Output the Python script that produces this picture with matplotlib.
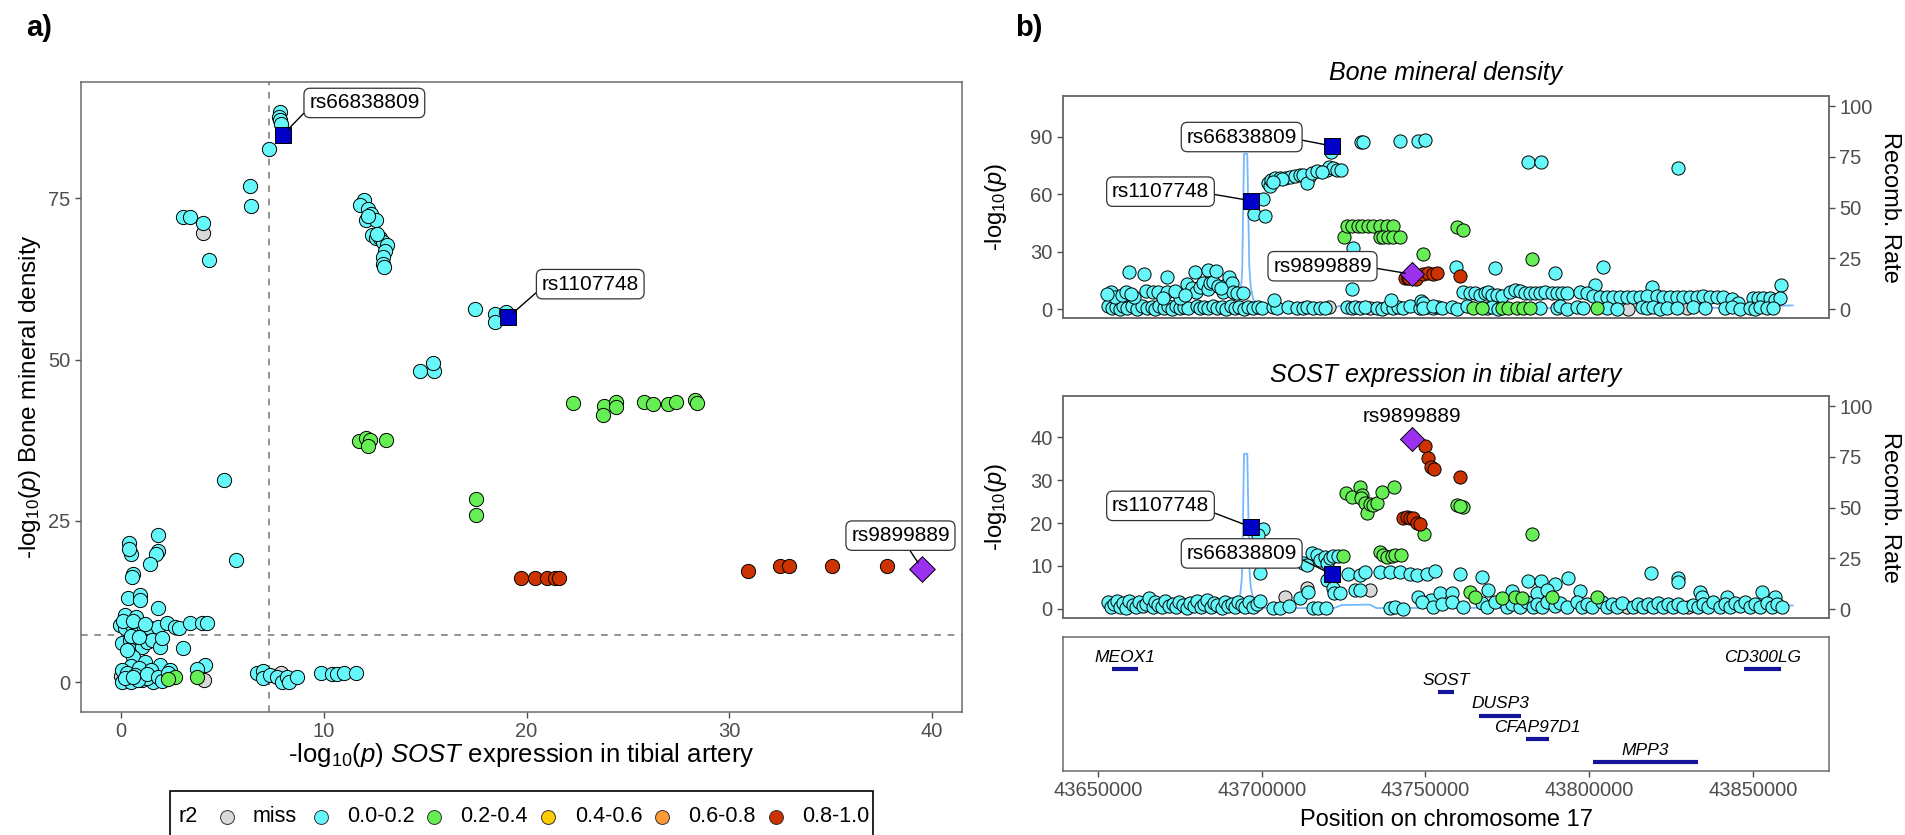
import matplotlib
matplotlib.use('Agg')
import matplotlib.pyplot as plt
from matplotlib.lines import Line2D
from matplotlib.patches import Rectangle

plt.rcParams['font.family'] = ['Liberation Sans', 'DejaVu Sans']
plt.rcParams['mathtext.fontset'] = 'custom'
plt.rcParams['mathtext.rm'] = 'Liberation Sans'
plt.rcParams['mathtext.it'] = 'Liberation Sans:italic'
plt.rcParams['mathtext.bf'] = 'Liberation Sans:bold'

# ---------------- colours ----------------
ld_labels = ['miss', '0.0-0.2', '0.2-0.4', '0.4-0.6', '0.6-0.8', '0.8-1.0']
ld_colors = ['#D9D9D9', '#66F7FA', '#66EE55', '#FFCC00', '#FF9933', '#CC3300']
lead_color = '#9B30F0'
sel_color = '#0000C8'
recomb_color = '#74B8FF'
gene_color = '#14149A'
GRAY_TXT = '#4D4D4D'
FRAME = '#6B6B6B'

# ---------------- panel a data: (SOST -log10p, BMD -log10p) ----------------
a_miss = [(4.03, 69.6), (4.1, 0.3), (0.0, 1.0), (7.9, 1.4)]
a_cyan = [(7.85, 88.4), (7.8, 87.6), (7.85, 87.1), (7.9, 86.6), (7.28, 82.7), (6.34, 76.9),
          (6.39, 73.8), (3.08, 72.1), (3.41, 72.1), (4.02, 71.2), (4.33, 65.5),
          (11.96, 74.7), (11.8, 73.9), (12.17, 73.4), (12.32, 72.6), (12.1, 71.7), (12.56, 71.7),
          (12.4, 69.3), (12.56, 68.9), (12.77, 68.9), (12.92, 68.2), (13.14, 67.7), (13.0, 66.9),
          (12.92, 65.9), (12.92, 64.9), (12.95, 64.4), (12.2, 72.2), (12.6, 69.5),
          (17.46, 57.8), (18.46, 57.0), (18.46, 55.8), (18.97, 57.4),
          (14.74, 48.3), (15.44, 48.3), (15.37, 49.4), (5.06, 31.4), (5.67, 18.9),
          (0.37, 21.6), (0.47, 19.9), (0.4, 20.6), (1.8, 22.8), (1.8, 20.3), (1.7, 19.8),
          (1.43, 18.3), (0.6, 16.8), (0.55, 16.3),
          (0.36, 13.0), (0.94, 13.5), (0.94, 12.7), (1.8, 11.5), (0.2, 10.4), (0.74, 10.1),
          (-0.05, 8.8), (0.2, 8.3), (0.53, 8.8), (0.8, 8.1), (1.07, 8.8), (1.43, 8.3), (1.8, 8.6),
          (2.26, 9.1), (2.67, 8.6), (2.88, 8.3), (3.41, 9.1), (3.98, 9.1), (4.23, 9.2),
          (0.1, 9.5), (0.6, 9.4), (1.2, 9.0),
          (0.03, 6.0), (0.44, 6.5), (0.61, 5.7), (0.86, 6.8), (1.02, 5.5), (1.3, 6.25),
          (1.51, 6.5), (1.93, 5.5), (2.01, 6.9), (0.61, 3.9), (3.05, 5.2), (0.5, 7.2),
          (0.9, 7.0), (0.3, 5.0),
          (1.19, 3.1), (1.93, 2.6), (2.42, 1.9), (4.12, 2.7), (3.74, 2.0), (0.5, 2.5),
          (0.9, 2.2), (1.5, 1.8),
          (0.03, 1.9), (0.28, 1.35), (0.69, 1.1), (1.02, 0.3), (1.6, 0.05), (1.27, 0.57),
          (0.03, 0.05), (0.5, 0.05), (0.85, 0.3), (1.3, 1.2), (1.8, 0.8), (2.0, 0.2),
          (2.3, 1.4), (0.2, 0.6), (0.6, 0.8),
          (6.7, 1.35), (7.02, 1.7), (6.98, 0.57), (7.36, 1.08), (7.69, 0.82), (7.93, 0.05),
          (8.18, 0.73), (8.26, 0.05), (8.7, 0.73),
          (9.88, 1.35), (10.4, 1.24), (10.65, 1.24), (10.98, 1.35), (11.6, 1.35)]
a_green = [(11.72, 37.4), (12.1, 37.8), (12.26, 37.5), (12.17, 36.6), (13.08, 37.5),
           (17.52, 28.4), (17.52, 25.9), (22.3, 43.2), (23.81, 42.8), (23.75, 41.4),
           (24.41, 43.4), (24.41, 42.7), (25.78, 43.4), (26.23, 43.1), (26.99, 43.1),
           (27.35, 43.4), (28.29, 43.7), (28.41, 43.3), (2.67, 0.82), (3.74, 0.82), (2.3, 0.5)]
a_red = [(19.73, 16.2), (20.4, 16.1), (21.03, 16.06), (21.39, 16.06), (21.6, 16.2),
         (30.9, 17.25), (32.5, 18.0), (32.94, 18.0), (35.06, 18.0), (37.8, 18.0)]
snp_names = ['rs66838809', 'rs1107748', 'rs9899889']
snp_pos = [43721460, 43696640, 43745900]
snp_sost = [7.99, 19.1, 39.5]
snp_bmd = [84.9, 56.6, 17.6]
snp_bmd_b = [85.1, 56.6, 18.2]
snp_sost_b = [8.0, 19.1, 39.5]
gw_threshold = 7.3

# ---------------- panel b top: (position, BMD -log10p) ----------------
t_miss = [(43720645, 0.9), (43733059, 0.5), (43714541, 69.1), (43811904, 0.3), (43829732, 0.4)]
t_cyan = [
    (43653185, 1.7), (43654202, 0.4), (43655525, 1.2), (43656746, 0.3), (43657763, 1.7),
    (43658985, 0.5), (43660307, 1.5), (43661833, 0.3), (43663360, 1.7), (43664886, 0.6),
    (43666413, 1.2), (43667430, 0.3), (43668752, 1.7), (43670177, 0.5), (43671499, 1.4),
    (43672518, 0.3), (43673840, 1.8), (43675061, 0.6), (43676282, 1.2), (43677604, 0.4),
    (43680150, 1.6), (43681166, 0.4), (43682488, 1.1), (43683710, 0.5), (43685033, 1.7),
    (43686255, 0.4), (43687780, 1.3), (43689102, 0.3), (43690527, 1.6), (43691849, 0.5),
    (43693172, 1.2), (43694597, 0.3), (43695919, 1.0), (43697445, 0.5), (43698971, 1.3),
    (43699990, 0.4),
    (43703551, 1.2), (43704772, 0.5), (43708129, 0.9), (43710675, 0.8), (43712708, 0.4),
    (43713727, 1.1), (43715760, 0.6), (43717796, 0.8), (43719322, 0.4), (43725937, 1.3),
    (43727463, 0.5), (43728480, 0.9), (43730006, 0.4), (43731532, 1.1), (43735094, 0.6),
    (43736621, 0.3), (43738147, 0.9), (43740180, 0.4), (43741706, 1.2), (43743233, 0.5),
    (43745269, 1.7), (43748321, 0.6), (43750357, 1.0), (43752390, 0.4), (43753916, 1.2),
    (43703900, 4.8), (43739600, 4.8), (43748500, 4.3),
    (43653999, 8.8), (43655220, 6.5), (43657265, 7.4), (43658578, 9.1), (43659592, 19.6),
    (43661111, 6.5), (43664081, 18.4), (43664683, 9.5), (43666911, 8.8), (43668437, 8.8),
    (43671001, 8.8), (43671001, 16.6), (43675061, 5.7), (43677106, 13.1), (43678632, 10.9),
    (43679853, 9.1), (43679640, 19.6), (43681166, 11.7), (43682173, 13.5), (43683520, 20.4),
    (43683520, 10.4), (43684222, 13.5), (43685229, 14.3), (43686052, 19.9), (43686755, 12.1),
    (43688097, 8.8), (43689318, 13.1), (43690110, 17.0), (43690830, 13.5), (43691334, 8.8),
    (43692371, 8.3), (43694386, 8.3), (43652800, 8.0), (43660200, 8.0), (43669800, 6.0),
    (43673500, 9.5), (43676500, 7.5), (43687500, 11.0),
    (43697751, 49.5), (43701007, 48.6), (43700295, 57.5), (43701822, 65.7), (43702535, 64.3),
    (43702840, 67.4), (43704061, 68.3), (43705587, 68.3), (43707114, 68.6), (43708640, 69.1),
    (43710166, 69.5), (43711692, 70.0), (43712709, 70.0), (43713727, 65.7), (43715253, 71.2),
    (43716779, 72.3), (43719831, 72.6), (43720645, 74.0), (43721866, 73.5), (43722883, 72.6),
    (43724104, 72.6), (43721052, 82.2), (43718300, 71.5), (43706300, 68.0), (43703300, 66.5),
    (43730311, 87.4), (43731023, 87.4), (43742216, 87.7), (43747609, 87.7), (43749847, 88.3),
    (43727970, 31.8), (43727463, 10.4), (43759311, 21.8), (43771211, 21.3), (43789536, 19.0),
    (43804089, 21.8), (43781385, 76.9), (43785170, 76.9), (43827163, 73.5), (43801742, 12.6),
    (43819232, 11.4), (43858425, 12.6), (43749331, 3.1),
    (43761539, 9.1), (43763583, 8.3), (43765110, 8.6), (43766636, 7.4), (43768162, 8.3),
    (43769170, 9.1), (43770207, 7.4), (43771733, 7.4), (43773260, 6.9), (43775793, 9.1),
    (43777319, 10.0), (43778846, 9.7), (43780372, 8.3), (43781898, 8.3), (43783425, 8.3),
    (43784951, 8.3), (43786477, 9.1), (43788522, 8.3), (43790048, 8.3), (43791575, 8.3),
    (43793101, 8.3), (43797161, 9.1), (43799206, 8.3), (43801220, 6.9), (43803269, 6.5),
    (43805314, 6.5), (43807328, 6.5), (43809373, 6.5), (43811418, 6.5), (43813433, 6.5),
    (43815478, 6.5), (43817523, 6.9), (43820575, 6.9), (43822590, 6.5), (43824635, 6.5),
    (43826680, 6.5), (43828695, 6.5), (43830740, 6.5), (43832785, 6.5), (43834799, 6.9),
    (43836844, 6.5), (43838889, 6.5), (43840904, 6.5), (43843468, 5.2), (43845482, 3.1),
    (43850061, 5.7), (43851588, 5.7), (43853114, 5.7), (43855159, 5.7), (43856685, 4.8),
    (43858211, 5.7),
    (43749331, 0.5), (43752383, 1.6), (43754947, 0.4), (43757998, 1.2), (43759524, 0.3),
    (43762577, 1.4), (43768682, 0.5), (43770207, 1.3), (43772221, 0.3), (43784951, 0.6),
    (43790048, 0.4), (43791056, 1.5), (43793101, 0.3), (43796154, 1.2), (43798168, 0.4),
    (43805314, 0.5), (43808365, 0.3), (43815997, 1.0), (43817523, 0.4), (43819537, 1.2),
    (43821582, 0.3), (43823627, 0.6), (43826680, 0.4), (43831747, 1.1), (43835317, 0.5),
    (43841422, 0.4), (43843468, 1.3), (43846002, 0.3), (43849054, 0.7), (43850581, 0.3),
    (43852107, 1.0), (43854152, 0.4), (43856166, 0.8)]
t_green = [(43725122, 37.5), (43725937, 43.6), (43727463, 43.6), (43729497, 43.6), (43730514, 43.6),
           (43732549, 43.6), (43734075, 43.6), (43736111, 43.6), (43738147, 43.6), (43740180, 43.6),
           (43736111, 37.5), (43737128, 37.5), (43738654, 37.5), (43740180, 37.5), (43742216, 37.5),
           (43749338, 28.8), (43759524, 43.0), (43761538, 41.3), (43782418, 26.0),
           (43764601, 0.5), (43767145, 0.4), (43773250, 0.6), (43775285, 0.4), (43777830, 0.5),
           (43779865, 0.4), (43781900, 0.5), (43802250, 0.6)]
t_red = [(43743742, 16.1), (43744759, 16.1), (43745000, 16.4), (43746284, 16.6), (43747000, 16.0),
         (43749338, 18.4), (43750865, 18.9), (43752390, 18.6), (43753407, 18.9), (43760531, 17.3)]

# ---------------- panel b middle: (position, SOST -log10p) ----------------
m_miss = [(43707114, 2.8), (43713727, 4.8), (43733059, 4.4), (43811407, 0.3), (43830229, 0.4)]
m_cyan = [
    (43653185, 1.5), (43653999, 0.3), (43654915, 1.0), (43655729, 1.9), (43656746, 0.5),
    (43657560, 1.3), (43658578, 0.2), (43659595, 1.7), (43660613, 0.8), (43661630, 0.3),
    (43662647, 1.5), (43663868, 0.6), (43664683, 1.2), (43665700, 2.4), (43666718, 0.4),
    (43667430, 1.6), (43668448, 0.9), (43669465, 0.3), (43670483, 1.8), (43671805, 0.6),
    (43672823, 1.1), (43673840, 0.4), (43674858, 1.6), (43675875, 0.8), (43677096, 0.2),
    (43678113, 1.4), (43679335, 0.7), (43680352, 1.9), (43681369, 0.3), (43682386, 1.1),
    (43683404, 2.0), (43684422, 0.5), (43685439, 1.3), (43686456, 0.8), (43687780, 0.2),
    (43688797, 1.6), (43689815, 0.6), (43690832, 1.2), (43691849, 0.3), (43692867, 1.5),
    (43693884, 0.9), (43694902, 0.4), (43696224, 1.6), (43697445, 0.4), (43698464, 1.2),
    (43699481, 1.8),
    (43700295, 18.5), (43698971, 17.2), (43699481, 8.4),
    (43703551, 0.1), (43705586, 0.1), (43708436, 0.6), (43711692, 2.4), (43714236, 4.0),
    (43715557, 0.1), (43717287, 0.1), (43719628, 0.1),
    (43712709, 10.6), (43713727, 10.2), (43715253, 12.9), (43716779, 12.5), (43717795, 11.4),
    (43719322, 12.1), (43720026, 10.7), (43720848, 11.8), (43721866, 12.3), (43723383, 12.3),
    (43719831, 6.7), (43721662, 4.8), (43722069, 3.6), (43723900, 3.6),
    (43726438, 8.1), (43728478, 4.4), (43730006, 7.8), (43731532, 8.5), (43730006, 4.4),
    (43736111, 8.5), (43739164, 8.5), (43742216, 8.5), (43745269, 8.1), (43747311, 7.8),
    (43750366, 8.1), (43752900, 8.8),
    (43739164, 0.1), (43740691, 0.5), (43743231, 0.0), (43747800, 2.8), (43751600, 2.0),
    (43760531, 8.1), (43767145, 7.3), (43781385, 6.5), (43785170, 6.5), (43789536, 5.8),
    (43793606, 7.1), (43797168, 4.2), (43818834, 8.3), (43826962, 7.1), (43826962, 6.3),
    (43852804, 3.8), (43856670, 2.8), (43833780, 4.0), (43834300, 2.8), (43841912, 2.8),
    (43754420, 3.6), (43757981, 3.6), (43769180, 4.4), (43776303, 4.2), (43783934, 3.6),
    (43786987, 4.4),
    (43748831, 1.6), (43752390, 0.4), (43754935, 1.0), (43757988, 1.6), (43761547, 0.4),
    (43767145, 1.4), (43768672, 0.4), (43771215, 1.6), (43774777, 0.5), (43776303, 1.2),
    (43778846, 0.4), (43780882, 1.6), (43782915, 0.5), (43783934, 1.1), (43785461, 0.3),
    (43786987, 1.5), (43789530, 0.6), (43791056, 1.3), (43793092, 0.3), (43796145, 1.5),
    (43797671, 0.4), (43799197, 1.1), (43800723, 0.4), (43803776, 1.6), (43805302, 0.5),
    (43806828, 1.2), (43808354, 0.3), (43809881, 1.4), (43813440, 0.5), (43814966, 1.2),
    (43816493, 0.3), (43818019, 1.0), (43819545, 0.4), (43821072, 1.3), (43822598, 0.3),
    (43824124, 1.1), (43825650, 0.4), (43827177, 1.2), (43828703, 0.3), (43831756, 0.9),
    (43833282, 0.3), (43834808, 1.2), (43836334, 0.4), (43837861, 1.5), (43839896, 0.5),
    (43841422, 1.1), (43842949, 0.3), (43844475, 1.4), (43846001, 0.6), (43847528, 1.6),
    (43849054, 0.4), (43850580, 1.2), (43852107, 0.5), (43854142, 1.3), (43855668, 0.3),
    (43857194, 1.1), (43858720, 0.5)]
m_green = [(43725733, 27.1), (43727464, 26.1), (43730006, 28.5), (43730519, 26.5), (43730206, 25.8),
           (43731532, 24.6), (43732236, 22.3), (43733059, 24.4), (43734075, 24.2), (43735094, 24.6),
           (43736621, 27.3), (43740385, 28.3),
           (43724918, 12.3), (43736111, 13.3), (43737128, 12.5), (43738147, 12.1), (43739673, 12.3),
           (43740691, 12.5), (43742420, 12.5), (43749542, 17.4),
           (43759524, 24.2), (43761538, 23.8), (43760531, 24.0), (43782418, 17.4),
           (43763583, 4.0), (43765110, 2.8), (43773250, 2.4), (43777320, 2.8), (43779355, 2.4),
           (43788518, 2.8), (43802258, 2.8)]
m_red = [(43743231, 21.1), (43744249, 21.5), (43745257, 21.1), (43746266, 21.1), (43747313, 19.9),
         (43748325, 19.7), (43749847, 38.0), (43750865, 35.1), (43751577, 33.0), (43752594, 32.5),
         (43760531, 30.8)]

# ---------------- recombination rate ----------------
recomb_pos = [43651900, 43665000, 43680000, 43690000, 43692500, 43693073, 43693893, 43694079,
              43694597, 43695604, 43696216, 43696643, 43697437, 43698474, 43699481, 43701000,
              43712000, 43722000, 43724500, 43733000, 43735000, 43760000, 43790000, 43820000,
              43852000, 43855000, 43862090]
recomb_rate = [0.5, 0.6, 0.5, 0.8, 1.0, 1.3, 14.4, 21.0, 76.5, 76.5, 21.0, 11.0, 4.6, 3.3, 1.5,
               0.6, 0.5, 0.5, 2.0, 2.2, 0.5, 0.6, 0.5, 0.6, 0.6, 1.5, 1.8]

# ---------------- genes ----------------
gene_names = ['MEOX1', 'CD300LG', 'SOST', 'DUSP3', 'CFAP97D1', 'MPP3']
gene_start = [43654209, 43847306, 43753872, 43766330, 43780640, 43801010]
gene_end = [43662121, 43858418, 43758586, 43779125, 43787710, 43833333]
gene_row = [5, 5, 4, 3, 2, 1]

pos_ticks = [43650000, 43700000, 43750000, 43800000, 43850000]

# ---------------- layout helpers ----------------
W, H = 1905, 835
fig = plt.figure(figsize=(W / 100, H / 100), dpi=100)


def rect(l, t, r, b):
    return [l / W, 1 - b / H, (r - l) / W, (b - t) / H]


def style_frame(ax):
    for s in ax.spines.values():
        s.set_color(FRAME)
        s.set_linewidth(1.1)
    ax.tick_params(colors=GRAY_TXT, labelcolor=GRAY_TXT, labelsize=14.5, length=4, width=1)


def scat(ax, pts, color, s, z):
    if not pts:
        return
    xs = [p[0] for p in pts]
    ys = [p[1] for p in pts]
    ax.scatter(xs, ys, s=s, c=color, edgecolors='black', linewidths=0.7, zorder=z)


box = dict(boxstyle='round,pad=0.25,rounding_size=0.3', fc='white', ec='#333333', lw=0.9)

# ================= panel a =================
axa = fig.add_axes(rect(81, 82, 962, 712))
style_frame(axa)
axa.set_xlim(-1.975, 41.475)
axa.set_ylim(-4.65, 93.05)
axa.set_xticks([0, 10, 20, 30, 40])
axa.set_yticks([0, 25, 50, 75])
axa.axvline(gw_threshold, color='#808080', lw=1.2, ls=(0, (4, 4)), zorder=1)
axa.axhline(gw_threshold, color='#808080', lw=1.2, ls=(0, (4, 4)), zorder=1)
S_A = 105
scat(axa, a_miss, ld_colors[0], S_A, 2)
scat(axa, a_cyan, ld_colors[1], S_A, 3)
scat(axa, a_green, ld_colors[2], S_A, 4)
scat(axa, a_red, ld_colors[5], S_A, 5)
axa.scatter(snp_sost[:2], snp_bmd[:2], marker='s', s=130, c=sel_color, edgecolors='black',
            linewidths=0.7, zorder=6)
axa.scatter(snp_sost[2:], snp_bmd[2:], marker='D', s=170, c=lead_color, edgecolors='black',
            linewidths=0.7, zorder=6)
a_lab = [(12.0, 89.8, (0, 0.25)), (23.14, 61.7, (0, 0.3)), (38.44, 22.7, (0.56, 0))]
for i, (tx, ty, rp) in enumerate(a_lab):
    axa.annotate(snp_names[i], xy=(snp_sost[i], snp_bmd[i]), xytext=(tx, ty),
                 ha='center', va='center', fontsize=15, bbox=box, zorder=8,
                 arrowprops=dict(arrowstyle='-', color='black', lw=1.0, relpos=rp,
                                 shrinkA=0, shrinkB=5))

fig.text(521 / W, 1 - 755 / H, r'-log$_{10}$($p$) $\it{SOST}$ expression in tibial artery',
         ha='center', va='center', fontsize=18.5)
fig.text(30 / W, 1 - 397 / H, r'-log$_{10}$($p$) Bone mineral density', rotation=90,
         ha='center', va='center', fontsize=17.5)
fig.text(26 / W, 1 - 28 / H, 'a)', fontsize=21, fontweight='bold', ha='left', va='center')
fig.text(1015 / W, 1 - 28 / H, 'b)', fontsize=21, fontweight='bold', ha='left', va='center')

# legend (bottom)
fig.add_artist(Rectangle((170 / W, 1 - 845 / H), 703 / W, 54 / H, transform=fig.transFigure,
                         fc='white', ec='black', lw=1.2, clip_on=False))
fig.text(179 / W, 1 - 817 / H, 'r2', fontsize=15.5, ha='left', va='center')
leg_marker_x = [227, 321, 434, 548, 662, 776]
leg_text_x = [253, 347, 460, 575, 688, 802]
for mx, tx, lab, col in zip(leg_marker_x, leg_text_x, ld_labels, ld_colors):
    fig.add_artist(Line2D([mx / W], [1 - 817 / H], marker='o', markersize=10, color=col,
                          markeredgecolor='#333333', markeredgewidth=0.7, transform=fig.transFigure))
    fig.text(tx / W, 1 - 817 / H, lab, fontsize=15.5, ha='left', va='center')

# ================= panel b =================
XL = (43639350, 43873170)
ax_top = fig.add_axes(rect(1063, 96, 1829, 318))
ax_mid = fig.add_axes(rect(1063, 396, 1829, 618))
ax_gene = fig.add_axes(rect(1063, 637, 1829, 771))

S_B = 90
for ax, miss, cyan, green, red, ylim, yt, sv in [
        (ax_top, t_miss, t_cyan, t_green, t_red, (-4.6, 111.2), [0, 30, 60, 90], snp_bmd_b),
        (ax_mid, m_miss, m_cyan, m_green, m_red, (-2.17, 49.64), [0, 10, 20, 30, 40], snp_sost_b)]:
    style_frame(ax)
    ax2 = ax.twinx()
    ax2.set_ylim(-4.4, 105.0)
    ax2.set_yticks([0, 25, 50, 75, 100])
    ax2.plot(recomb_pos, recomb_rate, color=recomb_color, lw=1.3)
    style_frame(ax2)
    ax2.set_xlim(*XL)
    ax.set_zorder(ax2.get_zorder() + 1)
    ax.patch.set_visible(False)
    ax.set_xlim(*XL)
    ax.set_ylim(*ylim)
    ax.set_yticks(yt)
    ax.set_xticks([])
    scat(ax, miss, ld_colors[0], S_B, 2)
    scat(ax, cyan, ld_colors[1], S_B, 3)
    scat(ax, green, ld_colors[2], S_B, 4)
    scat(ax, red, ld_colors[5], S_B, 5)
    ax.scatter(snp_pos[:2], sv[:2], marker='s', s=130, c=sel_color, edgecolors='black',
               linewidths=0.7, zorder=6)
    ax.scatter(snp_pos[2:], sv[2:], marker='D', s=150, c=lead_color, edgecolors='black',
               linewidths=0.7, zorder=6)

# labels top
top_lab = [(43693895, 89.8, (1, 0.39)), (43669109, 61.3, (1, 0.4)), (43718560, 22.4, (1, 0.43))]
for i, (tx, ty, rp) in enumerate(top_lab):
    ax_top.annotate(snp_names[i], xy=(snp_pos[i], snp_bmd_b[i]), xytext=(tx, ty),
                    ha='center', va='center', fontsize=15, bbox=box, zorder=8,
                    arrowprops=dict(arrowstyle='-', color='black', lw=1.0, relpos=rp,
                                    shrinkA=0, shrinkB=5))
mid_lab = [(43693895, 12.9, (1, 0.31)), (43669109, 24.0, (1, 0.23))]
for i, (tx, ty, rp) in enumerate(mid_lab):
    ax_mid.annotate(snp_names[i], xy=(snp_pos[i], snp_sost_b[i]), xytext=(tx, ty),
                    ha='center', va='center', fontsize=15, bbox=box, zorder=8,
                    arrowprops=dict(arrowstyle='-', color='black', lw=1.0, relpos=rp,
                                    shrinkA=0, shrinkB=5))
ax_mid.text(43745880, 44.85, snp_names[2], ha='center', va='center', fontsize=15, zorder=8)

fig.text(1446 / W, 1 - 73 / H, 'Bone mineral density', fontstyle='italic', fontsize=18,
         ha='center', va='center')
fig.text(1446 / W, 1 - 375 / H, 'SOST expression in tibial artery', fontstyle='italic',
         fontsize=18, ha='center', va='center')
for yc in (207, 507):
    fig.text(996 / W, 1 - yc / H, r'-log$_{10}$($p$)', rotation=90, fontsize=17,
             ha='center', va='center')
    fig.text(1890 / W, 1 - yc / H, 'Recomb. Rate', rotation=270, fontsize=17,
             ha='center', va='center')

# gene track
style_frame(ax_gene)
ax_gene.set_xlim(*XL)
ax_gene.set_ylim(0.613, 6.39)
ax_gene.set_yticks([])
ax_gene.set_xticks(pos_ticks)
ax_gene.set_xticklabels([str(p) for p in pos_ticks])
for name, s0, s1, r in zip(gene_names, gene_start, gene_end, gene_row):
    ax_gene.plot([s0, s1], [r, r], color=gene_color, lw=3, solid_capstyle='butt')
    ax_gene.annotate(name, xy=((s0 + s1) / 2, r), xytext=(0, 3), textcoords='offset points',
                     ha='center', va='bottom', fontsize=12.5, fontstyle='italic')
fig.text(1446 / W, 1 - 820 / H, 'Position on chromosome 17', fontsize=17, ha='center',
         va='center')

fig.savefig('out.png', dpi=100)
